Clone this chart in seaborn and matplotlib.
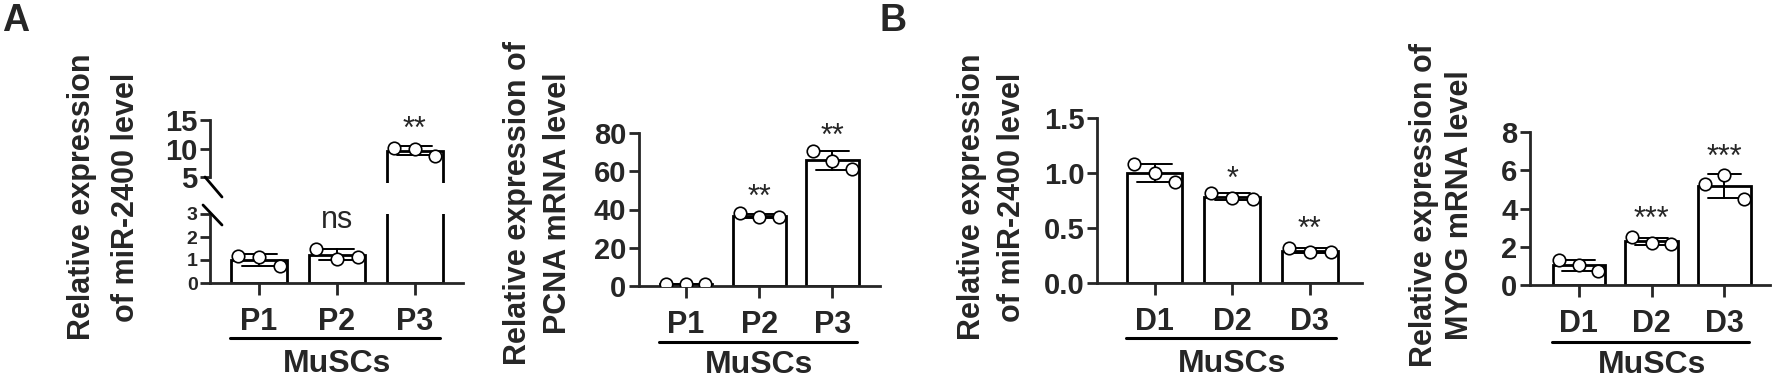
import numpy as np
import pandas as pd
import matplotlib
matplotlib.use("Agg")
import matplotlib.pyplot as plt
import matplotlib.transforms as mtransforms
from matplotlib.lines import Line2D
import seaborn as sns

# ---- data ----
p_groups = ["P1", "P2", "P3"]
d_groups = ["D1", "D2", "D3"]

# A: miR-2400 in proliferating MuSCs (broken axis)
mir_p = [[1.18, 1.12, 0.72], [1.50, 1.05, 1.12], [10.1, 10.0, 8.7]]
mir_p_sig = ["", "ns", "**"]
# A: PCNA mRNA
pcna = [[1.2, 0.9, 0.9], [38.0, 36.0, 36.0], [70.5, 65.5, 61.0]]
pcna_sig = ["", "**", "**"]
# B: miR-2400 in differentiating MuSCs
mir_d = [[1.08, 1.00, 0.92], [0.82, 0.77, 0.76], [0.32, 0.28, 0.28]]
mir_d_sig = ["", "*", "**"]
# B: MYOG mRNA
myog = [[1.30, 1.04, 0.75], [2.50, 2.20, 2.15], [5.30, 5.75, 4.50]]
myog_sig = ["", "***", "***"]

W, H = 1772, 381

sns.set_style("ticks")
plt.rcParams["font.family"] = ["Liberation Sans", "DejaVu Sans"]
plt.rcParams["font.weight"] = "bold"
plt.rcParams["axes.linewidth"] = 2.0

fig = plt.figure(figsize=(W / 100, H / 100), dpi=100)


def box(x0, x1, yt, yb):
    return [x0 / W, 1 - yb / H, (x1 - x0) / W, (yb - yt) / H]


def fy(y):
    return 1 - y / H


def make_df(groups, values):
    return pd.DataFrame({
        "group": np.repeat(groups, 3),
        "rep": np.tile(["a", "b", "c"], len(groups)),
        "value": np.concatenate(values),
    })


def draw(ax, groups, values, xlim, ylim, yticks):
    df = make_df(groups, values)
    sns.barplot(data=df, x="group", y="value", order=groups, errorbar="sd",
                width=0.72, color="white", edgecolor="black", linewidth=2.0,
                capsize=0.45, err_kws={"color": "black", "linewidth": 1.4},
                ax=ax)
    sns.stripplot(data=df, x="group", y="value", order=groups, hue="rep",
                  dodge=True, jitter=False, palette=["white"] * 3,
                  edgecolor="black", linewidth=1.2, size=9, legend=False,
                  ax=ax)
    ax.set_xlim(*xlim)
    ax.set_ylim(*ylim)
    ax.set_yticks(yticks)
    ax.set_xlabel("")
    ax.set_ylabel("")
    sns.despine(ax=ax)
    for s in ("left", "bottom"):
        ax.spines[s].set_linewidth(2.0)
    ax.tick_params(axis="y", length=7, width=2, labelsize=21, pad=2)
    ax.tick_params(axis="x", length=8.5, width=2, labelsize=22, pad=9)


def sig(ax, labels, ys):
    for i, (lab, y) in enumerate(zip(labels, ys)):
        if lab:
            ax.text(i, y, lab, ha="center", va="baseline", fontsize=22,
                    fontweight="normal")


def group_line(ax, y_line, y_text):
    tr = mtransforms.blended_transform_factory(ax.transData, fig.transFigure)
    fig.add_artist(Line2D([-0.37, 2.33], [fy(y_line)] * 2, transform=tr,
                          color="black", lw=2.2))
    fig.text(1, fy(y_text), "MuSCs", transform=tr, ha="center",
             va="baseline", fontsize=23)


# ---- panel 1: broken axis ----
ax1u = fig.add_axes(box(210, 463, 120, 183))
ax1l = fig.add_axes(box(210, 463, 214, 283))
draw(ax1u, p_groups, mir_p, (-0.63, 2.62), (4, 15), [5, 10, 15])
draw(ax1l, p_groups, mir_p, (-0.63, 2.62), (0, 3), [0, 1, 2, 3])
ax1u.spines["bottom"].set_visible(False)
ax1u.spines["left"].set_bounds(5, 15)
ax1u.tick_params(axis="x", bottom=False, labelbottom=False)
ax1l.tick_params(axis="y", labelsize=14)
for (x0, y0, x1, y1) in [(205, 177, 222, 197), (203, 205, 222, 225)]:
    fig.add_artist(Line2D([x0 / W, x1 / W], [fy(y0), fy(y1)],
                          transform=fig.transFigure, color="black", lw=2.0))
ax1u.text(2, 11.8, "**", ha="center", va="baseline", fontsize=22,
          fontweight="normal")
ax1l.text(1, 2.39, "ns", ha="center", va="baseline", fontsize=22,
          fontweight="normal")
group_line(ax1l, 338, 372)

# ---- panel 2 ----
ax2 = fig.add_axes(box(639, 880, 133, 286))
draw(ax2, p_groups, pcna, (-0.64, 2.65), (0, 80), [0, 20, 40, 60, 80])
sig(ax2, pcna_sig, [0, 41.8, 73.7])
group_line(ax2, 342, 373)

# ---- panel 3 ----
ax3 = fig.add_axes(box(1097, 1362, 118, 283))
draw(ax3, d_groups, mir_d, (-0.74, 2.67), (0, 1.5), [0.0, 0.5, 1.0, 1.5])
ax3.yaxis.set_major_formatter(matplotlib.ticker.FormatStrFormatter("%.1f"))
sig(ax3, mir_d_sig, [0, 0.864, 0.41])
group_line(ax3, 338, 372)

# ---- panel 4 ----
ax4 = fig.add_axes(box(1530, 1770, 132, 285))
draw(ax4, d_groups, myog, (-0.67, 2.625), (0, 8), [0, 2, 4, 6, 8])
sig(ax4, myog_sig, [0, 2.98, 6.22])
group_line(ax4, 342, 373)

# ---- y labels ----
ylab_kw = dict(rotation=90, ha="center", va="center", multialignment="center",
               fontsize=22)
fig.text(104 / W, fy(197), "Relative expression\nof miR-2400 level",
         linespacing=1.6, **ylab_kw)
fig.text(538 / W, fy(203), "Relative expression of\nPCNA mRNA level",
         linespacing=1.4, **ylab_kw)
fig.text(992 / W, fy(197), "Relative expression\nof miR-2400 level",
         linespacing=1.4, **ylab_kw)
fig.text(1442 / W, fy(205), "Relative expression of\nMYOG mRNA level",
         linespacing=1.3, **ylab_kw)

# ---- panel letters ----
fig.text(2 / W, fy(3), "A", ha="left", va="top", fontsize=27)
fig.text(880 / W, fy(3), "B", ha="left", va="top", fontsize=27)

fig.savefig("out.png", dpi=100)
